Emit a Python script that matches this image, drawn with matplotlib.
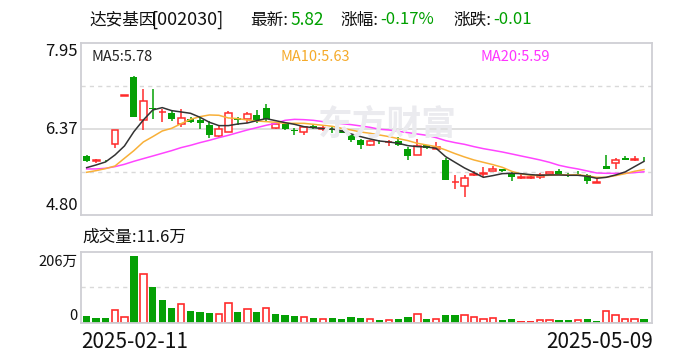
import matplotlib

matplotlib.use("Agg")
import matplotlib.pyplot as plt
import numpy as np

plt.rcParams["font.family"] = ["Noto Sans CJK SC", "DejaVu Sans"]

# daily OHLC, 2025-02-11 .. 2025-05-09 (60 sessions)
opens = [5.88, 5.795, 5.795, 6.09, 6.98, 7.33, 6.53, 6.75, 6.68, 6.67,
         6.46, 6.55, 6.535, 6.44, 6.24, 6.31, 6.57, 6.56, 6.63, 6.76,
         6.385, 6.46, 6.355, 6.32, 6.43, 6.375, 6.375, 6.34, 6.265, 6.17,
         6.075, 6.14, 6.13, 6.16, 6.005, 5.89, 6.08, 6.01, 5.805, 5.395,
         5.33, 5.54, 5.545, 5.61, 5.64, 5.575, 5.485, 5.485, 5.50, 5.55,
         5.605, 5.535, 5.54, 5.525, 5.39, 5.695, 5.755, 5.845, 5.80, 5.83]
highs = [5.89, 5.83, 5.81, 6.36, 6.98, 7.35, 7.10, 7.10, 6.745, 6.72,
         6.73, 6.60, 6.585, 6.525, 6.44, 6.70, 6.585, 6.68, 6.72, 6.835,
         6.48, 6.465, 6.385, 6.40, 6.44, 6.42, 6.41, 6.35, 6.27, 6.19,
         6.165, 6.17, 6.17, 6.22, 6.04, 6.185, 6.08, 6.14, 5.835, 5.53,
         5.53, 5.60, 5.67, 5.695, 5.64, 5.595, 5.55, 5.545, 5.56, 5.59,
         5.64, 5.575, 5.60, 5.55, 5.47, 5.89, 5.835, 5.875, 5.875, 5.855]
lows = [5.77, 5.745, 5.775, 6.02, 6.98, 6.59, 6.35, 6.55, 6.505, 6.525,
        6.415, 6.475, 6.37, 6.215, 6.235, 6.31, 6.44, 6.49, 6.485, 6.52,
        6.37, 6.36, 6.255, 6.265, 6.38, 6.335, 6.305, 6.29, 6.14, 6.00,
        6.055, 6.09, 6.06, 6.07, 5.805, 5.89, 6.005, 6.00, 5.445, 5.275,
        5.125, 5.52, 5.50, 5.61, 5.595, 5.43, 5.465, 5.465, 5.465, 5.55,
        5.55, 5.49, 5.51, 5.36, 5.38, 5.645, 5.645, 5.80, 5.79, 5.78]
closes = [5.79, 5.80, 5.785, 6.35, 6.98, 6.60, 6.88, 6.735, 6.685, 6.56,
          6.57, 6.50, 6.49, 6.26, 6.37, 6.66, 6.53, 6.64, 6.54, 6.56,
          6.46, 6.37, 6.34, 6.40, 6.385, 6.38, 6.36, 6.295, 6.17, 6.085,
          6.15, 6.13, 6.135, 6.075, 5.885, 6.07, 6.02, 6.05, 5.445, 5.40,
          5.47, 5.545, 5.565, 5.65, 5.61, 5.50, 5.49, 5.49, 5.535, 5.58,
          5.555, 5.53, 5.535, 5.415, 5.395, 5.65, 5.805, 5.805, 5.83, 5.82]

ma5 = [5.666, 5.715, 5.770, 5.898, 6.062, 6.324, 6.537, 6.720, 6.763, 6.708,
       6.684, 6.659, 6.586, 6.495, 6.434, 6.434, 6.464, 6.482, 6.525, 6.562,
       6.525, 6.489, 6.458, 6.415, 6.397, 6.379, 6.373, 6.336, 6.281, 6.233,
       6.190, 6.153, 6.135, 6.111, 6.068, 6.050, 6.044, 6.019, 5.867, 5.763,
       5.660, 5.575, 5.489, 5.520, 5.556, 5.562, 5.556, 5.538, 5.526, 5.532,
       5.532, 5.526, 5.526, 5.508, 5.471, 5.489, 5.532, 5.587, 5.684, 5.78]
ma10 = [5.581, 5.611, 5.648, 5.696, 5.837, 5.977, 6.135, 6.233, 6.336, 6.385,
        6.470, 6.549, 6.598, 6.629, 6.623, 6.574, 6.562, 6.537, 6.519, 6.507,
        6.495, 6.476, 6.476, 6.476, 6.458, 6.440, 6.421, 6.385, 6.354, 6.318,
        6.294, 6.263, 6.233, 6.196, 6.160, 6.111, 6.080, 6.050, 5.989, 5.922,
        5.861, 5.806, 5.763, 5.721, 5.672, 5.599, 5.550, 5.526, 5.520, 5.526,
        5.538, 5.532, 5.538, 5.514, 5.489, 5.489, 5.520, 5.556, 5.599, 5.63]
ma20 = [5.642, 5.642, 5.654, 5.684, 5.727, 5.782, 5.831, 5.879, 5.928, 5.977,
        6.032, 6.074, 6.123, 6.166, 6.214, 6.257, 6.306, 6.354, 6.397, 6.440,
        6.476, 6.531, 6.549, 6.543, 6.531, 6.507, 6.489, 6.470, 6.452, 6.428,
        6.403, 6.367, 6.354, 6.330, 6.306, 6.281, 6.257, 6.214, 6.160, 6.123,
        6.092, 6.050, 6.013, 5.983, 5.952, 5.916, 5.879, 5.843, 5.806, 5.763,
        5.709, 5.672, 5.642, 5.605, 5.568, 5.562, 5.562, 5.562, 5.575, 5.59]

# volume in 万 shares; u = up vs prev close, d = down, f = flat
volume = [20.5, 14.3, 14.3, 37.9, 16.4, 206, 148.6, 109.7, 69.7, 45.1,
          56.4, 35.9, 32.8, 29.7, 25.6, 59.4, 32.8, 41.0, 32.8, 44.1,
          26.6, 23.6, 20.5, 16.4, 14.3, 10.2, 14.3, 11.3, 17.4, 14.3,
          10.2, 8.2, 7.2, 11.3, 17.4, 25.6, 11.3, 10.2, 23.6, 23.6,
          22.5, 16.4, 10.2, 13.3, 8.2, 11.3, 5.1, 5.1, 7.2, 7.2,
          8.2, 8.2, 7.2, 11.3, 5.1, 34.9, 22.5, 10.2, 10.2, 11.6]
vol_dir = list("dddu" "udu" "ddd" "uddd" "uudud" "u" "ddd" "udu" "dddd"
               "udud" "dudu" "dd" "uuuu" "dd" "ff" "uu" "ddudd" "uuuu" "d")

first_date, last_date = "2025-02-11", "2025-05-09"
price_ticks = ["7.95", "6.37", "4.80"]

RED = "#ff2b2b"
GREEN = "#05a005"
GRID = "#d9d9d9"
EDGE = "#cfcfd4"
W, H = 688, 360

fig = plt.figure(figsize=(W / 100, H / 100), dpi=100)
fig.patch.set_facecolor("white")


def px(x, y):
    return x / W, 1 - y / H


ax = fig.add_axes([81 / W, 1 - 215 / H, 571 / W, 172.3 / H])
axv = fig.add_axes([81 / W, 1 - 322.7 / H, 571 / W, 71 / H])

n = len(closes)
x = np.arange(n)
o, h, l, c = map(np.array, (opens, highs, lows, closes))
up = c >= o
bw = 0.74

ax.set_xlim(-0.6, n - 0.15)
ax.set_ylim(4.80, 7.95)
for yv in (7.1625, 5.5875):
    ax.axhline(yv, color=GRID, lw=1, ls=(0, (3, 3)), zorder=0)
ax.axhline(6.375, color=GRID, lw=1.2, zorder=0)

# watermark
fig.text(*px(387, 124), "东方财富", fontsize=25, color="#ebebef",
         ha="center", va="center", fontweight="bold", zorder=0)

col = np.where(up, RED, GREEN)
ax.vlines(x, l, h, colors=col, lw=1.1, zorder=2)
body_lo = np.minimum(o, c)
body_h = np.maximum(np.abs(c - o), 0.008)
ax.bar(x[up], body_h[up], bottom=body_lo[up], width=bw, facecolor="white",
       edgecolor=RED, lw=1.1, zorder=3)
ax.bar(x[~up], body_h[~up], bottom=body_lo[~up], width=bw, color=GREEN,
       lw=0, zorder=3)

ax.plot(x, ma20, color="#ff44ff", lw=1.1, zorder=4)
ax.plot(x, ma10, color="#f8b038", lw=1.1, zorder=4)
ax.plot(x, ma5, color="#333333", lw=1.1, zorder=5)

# volume panel
v = np.array(volume)
vd = np.array(vol_dir)
axv.set_xlim(-0.6, n - 0.15)
axv.set_ylim(0, 218)
axv.axhline(109, color=GRID, lw=1, ls=(0, (3, 3)), zorder=0)
m = vd == "d"
axv.bar(x[m], v[m], width=0.78, color=GREEN, lw=0, zorder=2)
m = vd == "u"
axv.bar(x[m], v[m], width=0.7, facecolor="white", edgecolor=RED, lw=1.2, zorder=2)
m = vd == "f"
axv.bar(x[m], v[m], width=0.78, color=RED, lw=0, zorder=2)

for a in (ax, axv):
    a.set_xticks([])
    a.set_yticks([])
    for s in a.spines.values():
        s.set_color(EDGE)
        s.set_linewidth(1.3)

# texts
fs = 12
fig.text(*px(89, 20), "达安基因", fontsize=fs, va="center", color="#111111")
fig.text(*px(151, 20), "[002030]", fontsize=fs + 1, va="center", color="#111111")
fig.text(*px(250, 20), "最新:", fontsize=fs, va="center", color="#111111")
fig.text(*px(290, 20), "5.82", fontsize=fs + 0.5, va="center", color="#00a000")
fig.text(*px(340, 20), "涨幅:", fontsize=fs, va="center", color="#111111")
fig.text(*px(380, 20), "-0.17%", fontsize=fs, va="center", color="#00a000")
fig.text(*px(453, 20), "涨跌:", fontsize=fs, va="center", color="#111111")
fig.text(*px(493, 20), "-0.01", fontsize=fs, va="center", color="#00a000")

fig.text(*px(92, 57), "MA5:5.78", fontsize=10.5, va="center", color="#222222")
fig.text(*px(281, 57), "MA10:5.63", fontsize=10.5, va="center", color="#f5aa2a")
fig.text(*px(481, 57), "MA20:5.59", fontsize=10.5, va="center", color="#ff33ff")

for t, yy in zip(price_ticks, (51, 129, 206)):
    fig.text(*px(78, yy), t, fontsize=12, ha="right", va="center", color="#111111")

fig.text(*px(82, 237), "成交量:11.6万", fontsize=fs, va="center", color="#111111")
fig.text(*px(78, 262), "206万", fontsize=10.5, ha="right", va="center", color="#111111")
fig.text(*px(78, 316), "0", fontsize=10.5, ha="right", va="center", color="#111111")

fig.text(*px(81, 342), first_date, fontsize=15, va="center", color="#111111")
fig.text(*px(653, 342), last_date, fontsize=15, ha="right", va="center", color="#111111")

fig.savefig("out.png", dpi=100, facecolor="white")
